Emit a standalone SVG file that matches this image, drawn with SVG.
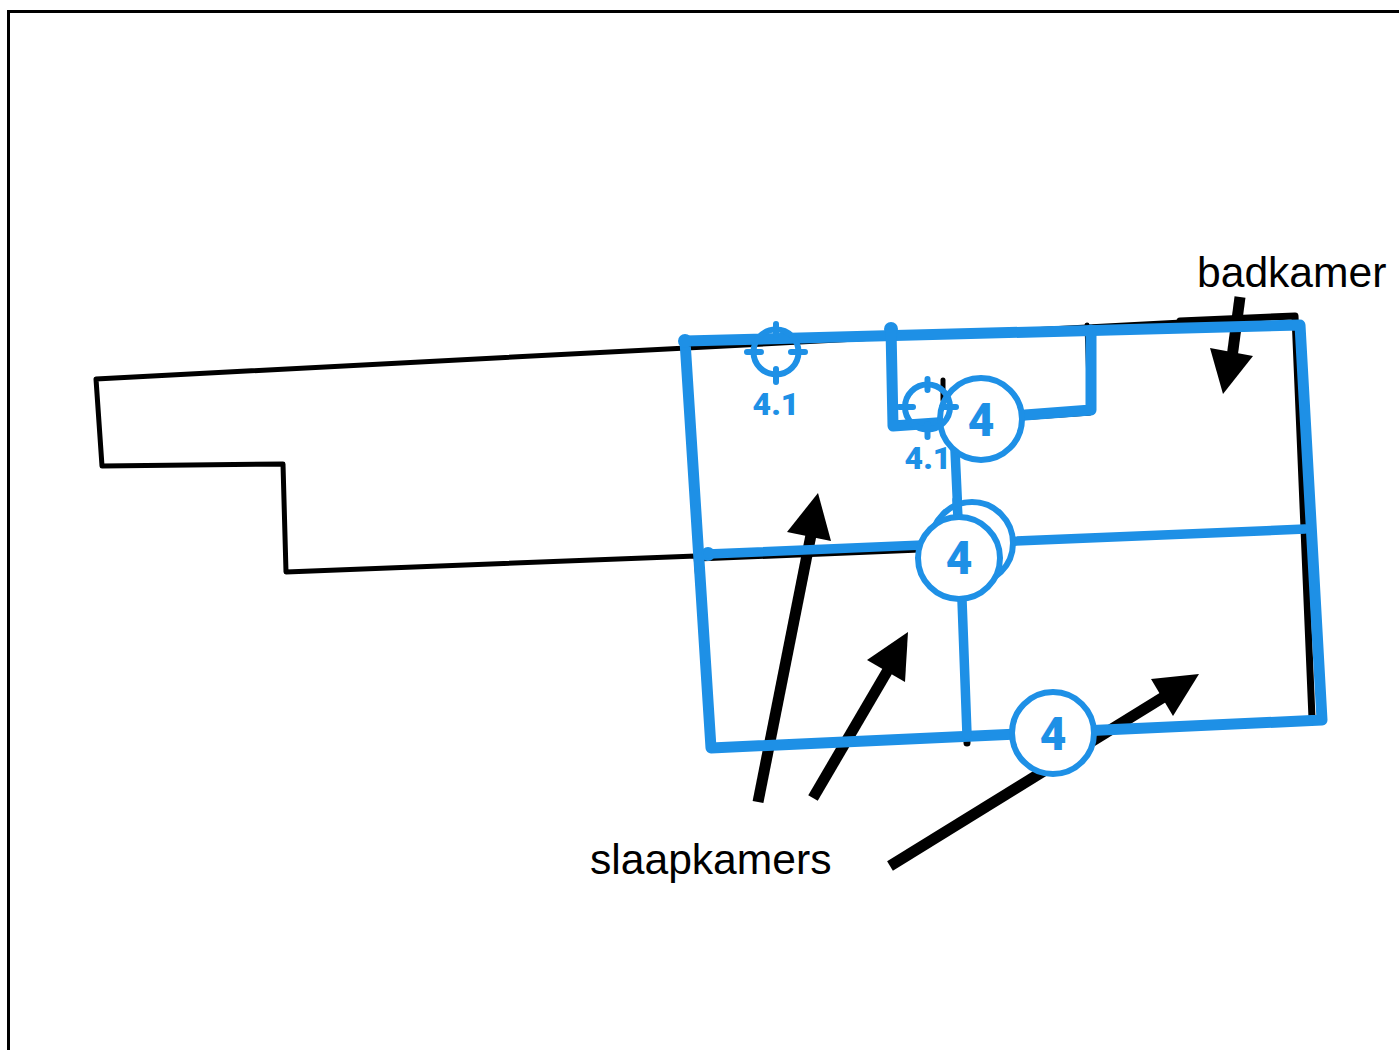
<svg xmlns="http://www.w3.org/2000/svg" width="1399" height="1050" viewBox="0 0 1399 1050">
<style>
.plan{fill:none;stroke:#000;stroke-width:5;stroke-linejoin:round;stroke-linecap:round}
.heavy{stroke-width:7}
.wall{fill:none;stroke:#1e90e6;stroke-width:11;stroke-linejoin:round;stroke-linecap:round}
.thin{stroke-width:9.500}
.shaft{stroke:#000;stroke-width:11;fill:none}
.head{fill:#000}
.dot{fill:#1e90e6}
.c{fill:#fff;stroke:#1e90e6;stroke-width:6}
.t{fill:none;stroke:#1e90e6;stroke-width:6;stroke-linecap:round}
.n{font-family:Roboto,"Liberation Sans",sans-serif;font-weight:900;fill:#1e90e6;text-anchor:middle}
.l{font-family:"Liberation Sans",Arial,sans-serif;font-size:42.600px;fill:#000}
</style>
<rect x="8.500" y="11.500" width="1500" height="1200" fill="#fff" stroke="#000" stroke-width="3"/>
<g id="plan">
<path class="plan" d="M96 379L1295 316L1312 720L712 750L696 556L286 572L283 464L102 466Z"/>
<path class="plan" d="M697 559L920 550M1087 325L1090 413L892 427M943 380L943 400"/>
<path class="plan heavy" d="M1180 321L1295 316L1312 718M967 730L967 743"/>
</g>
<g id="connectors">
<path class="shaft" d="M758 802L812 530"/><path class="head" d="M818 493L787 532L831 541Z"/>
<path class="shaft" d="M813 798L895 658"/><path class="head" d="M908 632L867 660L905 682Z"/>
<path class="shaft" d="M890 866L1175 690"/><path class="head" d="M1199 674L1151 679L1173 716Z"/>
<path class="shaft" d="M1240 297L1231 365"/><path class="head" d="M1223 394L1210 348L1253 356Z"/>
</g>
<g id="walls">
<path class="wall" d="M685 341L1300 325L1322 720L711 748Z"/>
<circle class="dot" cx="685" cy="341" r="7"/>
<circle class="dot" cx="891" cy="329" r="7"/>
<circle class="dot" cx="708" cy="554" r="7"/>
<path class="wall thin" d="M708 554L1305 529"/>
<path class="wall" d="M891 329L893 426L950 422"/>
<path class="wall" d="M1025 415L1091 410L1091 330"/>
<path class="wall thin" d="M955 450L958 515M962 600L967 735"/>
</g>
<g id="target-1">
<circle class="t" cx="776" cy="352" r="22.500"/>
<path class="t" d="M776 324V335M776 369V382M747 352H761M791 352H805"/>
<text class="n" x="776" y="415" font-size="32">4.1</text>
</g>
<g id="node-4a"><circle class="c" cx="981" cy="419" r="41"/><text class="n" x="981" y="436" font-size="46">4</text></g>
<g id="target-2">
<circle class="t" cx="927.500" cy="407" r="22.500"/>
<path class="t" d="M927.500 379V390M927.500 424V437M899 407H913M942 407H956"/>
<text class="n" x="928" y="469" font-size="32">4.1</text>
</g>
<g id="node-4b-back"><circle class="c" cx="972" cy="543" r="41"/></g>
<path class="wall thin" d="M957 500L958 518"/>
<g id="node-4b"><circle class="c" cx="959" cy="558" r="41"/><text class="n" x="959" y="574" font-size="46">4</text></g>
<g id="node-4c"><circle class="c" cx="1053" cy="733" r="41"/><text class="n" x="1053" y="750" font-size="46">4</text></g>
<text class="l" x="590" y="874">slaapkamers</text>
<text class="l" x="1197" y="287">badkamer</text>
</svg>
